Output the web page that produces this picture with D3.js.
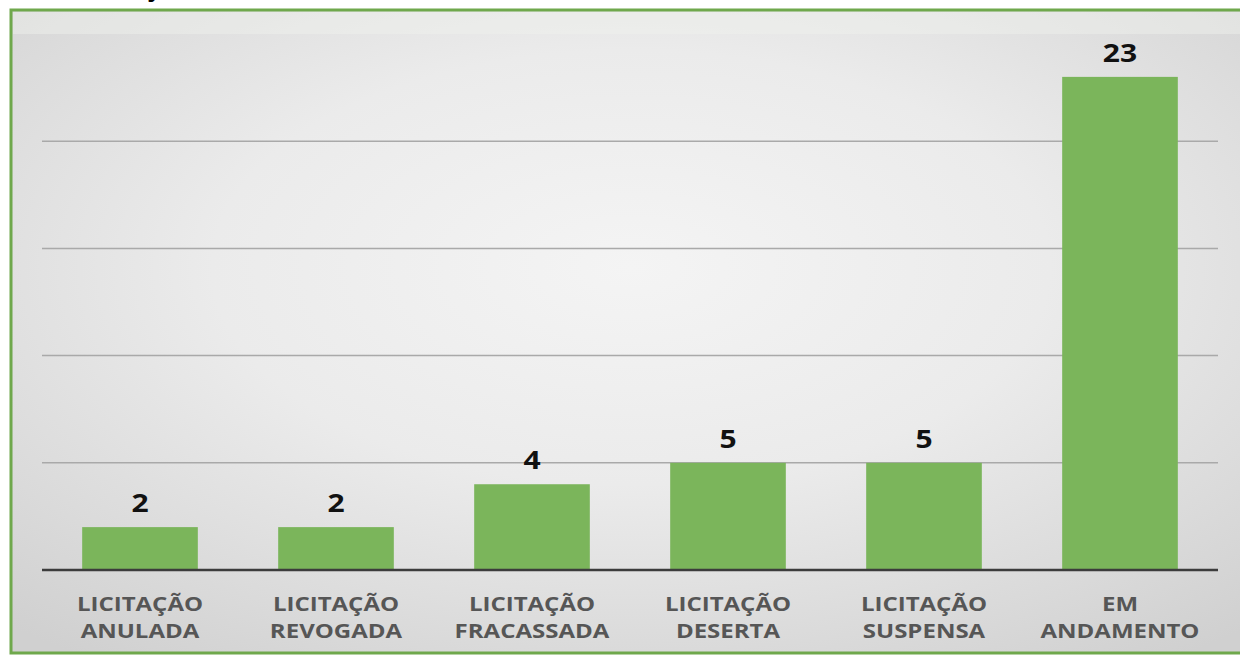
<!DOCTYPE html>
<html>
<head>
<meta charset="utf-8">
<script src="https://cdn.jsdelivr.net/npm/d3@7"></script>
<style>
  body { margin: 0; background: #fff; }
  svg { display: block; }
</style>
</head>
<body>
<div id="chart"></div>
<script>
// data
const categories = ["LICITAÇÃO ANULADA", "LICITAÇÃO REVOGADA", "LICITAÇÃO FRACASSADA",
                    "LICITAÇÃO DESERTA", "LICITAÇÃO SUSPENSA", "EM ANDAMENTO"]
const values = [2, 2, 4, 5, 5, 23]
const gridTicks = [5, 10, 15, 20]

const width = 1240
const height = 655
const margin = {top: 34, right: 22, bottom: 85, left: 42}
const stretch = 1.2   // text in the picture is wider than Open Sans

const svg = d3.select("#chart").append("svg")
  .attr("width", width)
  .attr("height", height)

const defs = svg.append("defs")
const grad = defs.append("radialGradient")
  .attr("id", "bg")
  .attr("cx", "50%").attr("cy", "40%").attr("r", "75%")
grad.append("stop").attr("offset", "0%").attr("stop-color", "#f4f4f4")
grad.append("stop").attr("offset", "45%").attr("stop-color", "#ebebeb")
grad.append("stop").attr("offset", "100%").attr("stop-color", "#d0d0d0")

// cropped title above the frame (only a bit of it shows)
svg.append("text")
  .attr("x", 150).attr("y", -3)
  .attr("font-family", "Open Sans, sans-serif")
  .attr("font-weight", 700)
  .attr("font-size", 22)
  .attr("fill", "#000")
  .text("j")

// frame
svg.append("rect")
  .attr("x", 11).attr("y", 10)
  .attr("width", width).attr("height", 643)
  .attr("fill", "url(#bg)")
  .attr("stroke", "#6fa84c")
  .attr("stroke-width", 3)

// faint band at the top
svg.append("rect")
  .attr("x", 13).attr("y", 12)
  .attr("width", width - 13).attr("height", 22)
  .attr("fill", "#f0f1ee")
  .attr("opacity", 0.45)

const x = d3.scaleBand()
  .domain(categories)
  .range([margin.left, width - margin.right])
  .paddingInner(0.41)
  .paddingOuter(0.205)

const y = d3.scaleLinear()
  .domain([0, 25])
  .range([height - margin.bottom, margin.top])

// gridlines
svg.append("g")
  .selectAll("line")
  .data(gridTicks)
  .join("line")
  .attr("x1", margin.left)
  .attr("x2", width - margin.right)
  .attr("y1", d => y(d))
  .attr("y2", d => y(d))
  .attr("stroke", "#a9a9a9")
  .attr("stroke-width", 1.5)

// bars
svg.append("g")
  .selectAll("rect")
  .data(values)
  .join("rect")
  .attr("x", (d, i) => x(categories[i]))
  .attr("y", d => y(d))
  .attr("width", x.bandwidth())
  .attr("height", d => y(0) - y(d))
  .attr("fill", "#7bb55b")

// baseline
svg.append("line")
  .attr("x1", margin.left)
  .attr("x2", width - margin.right)
  .attr("y1", y(0))
  .attr("y2", y(0))
  .attr("stroke", "#3c3c3c")
  .attr("stroke-width", 2.5)

// widen a text element around its centre
function widen(sel) {
  sel.each(function () {
    const w = this.getComputedTextLength()
    d3.select(this)
      .attr("textLength", w * stretch)
      .attr("lengthAdjust", "spacingAndGlyphs")
  })
}

// value labels
svg.append("g")
  .selectAll("text")
  .data(values)
  .join("text")
  .attr("x", (d, i) => x(categories[i]) + x.bandwidth() / 2)
  .attr("y", d => y(d) - 15)
  .attr("text-anchor", "middle")
  .attr("font-family", "Open Sans, sans-serif")
  .attr("font-weight", 700)
  .attr("font-size", 25)
  .attr("fill", "#111")
  .text(d => d)
  .call(widen)

// category labels (two lines)
const labels = svg.append("g")
  .selectAll("g")
  .data(categories)
  .join("g")

labels.each(function (d) {
  const i = d.indexOf(" ")
  const cx = x(d) + x.bandwidth() / 2
  d3.select(this).selectAll("text")
    .data([d.slice(0, i), d.slice(i + 1)])
    .join("text")
    .attr("x", cx)
    .attr("y", (s, k) => y(0) + 41 + k * 27)
    .attr("text-anchor", "middle")
    .attr("font-family", "Open Sans, sans-serif")
    .attr("font-weight", 700)
    .attr("font-size", 20)
    .attr("fill", "#565656")
    .text(s => s)
    .call(widen)
})
</script>
</body>
</html>
